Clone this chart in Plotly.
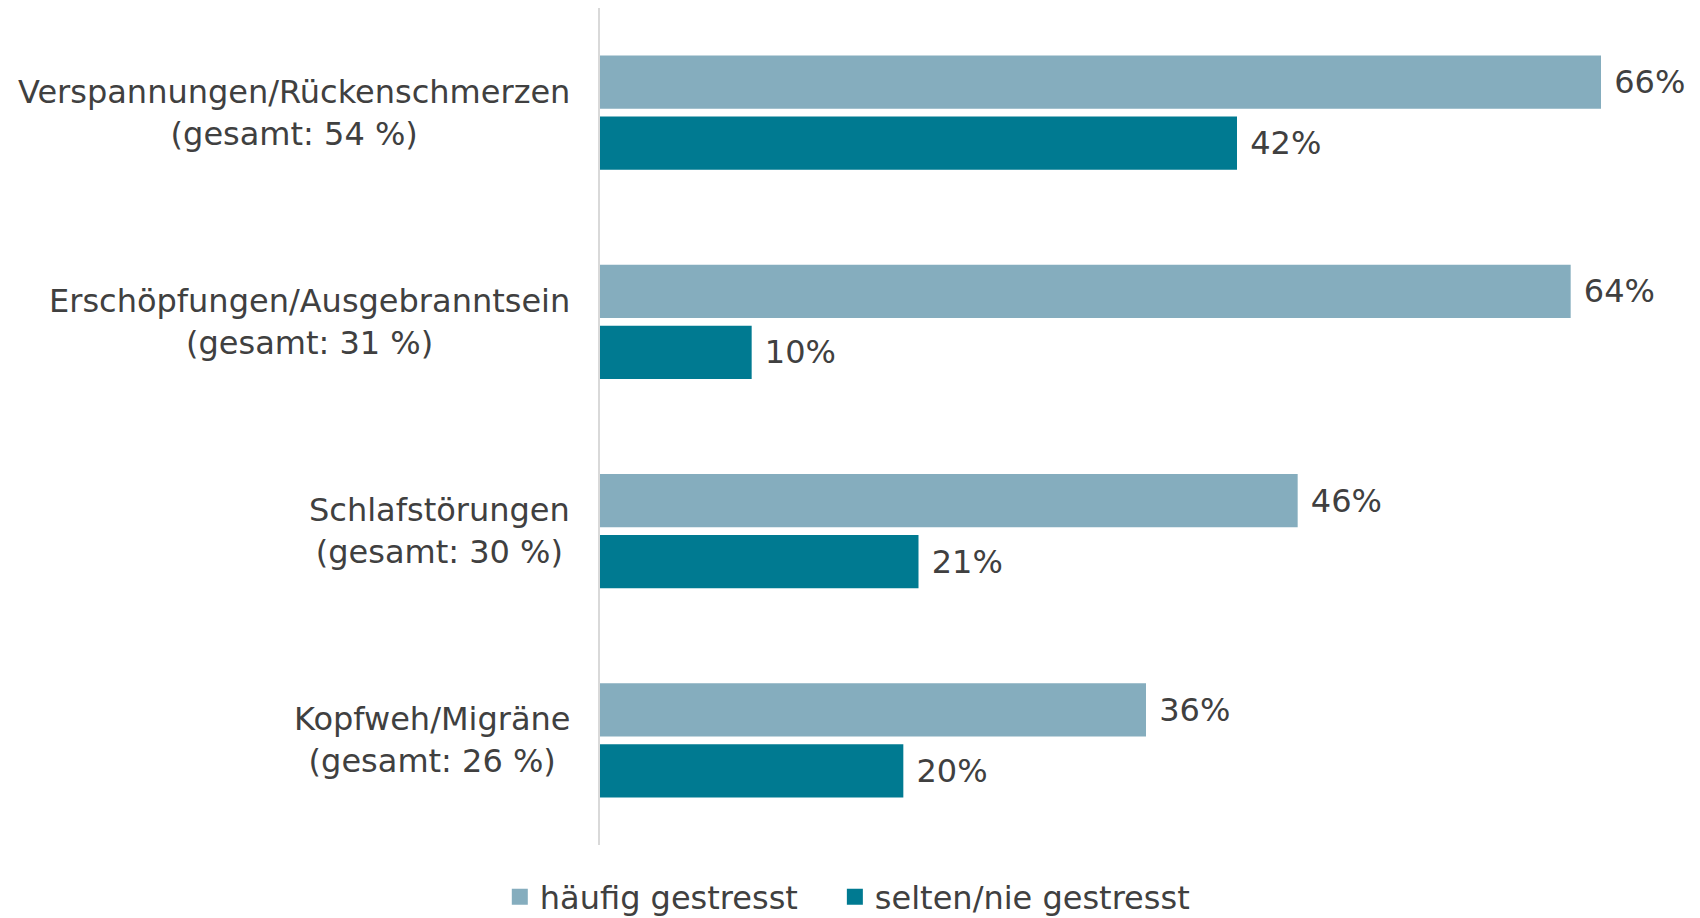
import plotly.graph_objects as go

categories = ["Verspannungen/Rückenschmerzen", "Erschöpfungen/Ausgebranntsein",
              "Schlafstörungen", "Kopfweh/Migräne"]
totals = [54, 31, 30, 26]
haeufig = [66, 64, 46, 36]
selten = [42, 10, 21, 20]
series_names = ["häufig gestresst", "selten/nie gestresst"]

FONT = "DejaVu Sans, Verdana, sans-serif"
TEXT_COLOR = "#404040"
C_LIGHT = "#85ADBE"
C_DARK = "#007A91"

fig = go.Figure()
legend_labels = [series_names[0] + "\u2003", series_names[1]]
for name, leg, vals, col in [(series_names[0], legend_labels[0], haeufig, C_LIGHT),
                             (series_names[1], legend_labels[1], selten, C_DARK)]:
    fig.add_trace(go.Bar(
        y=categories, x=vals, name=name, orientation="h",
        marker=dict(color=col, line=dict(width=0)),
        text=[f" {v}%" for v in vals], textposition="outside",
        textfont=dict(family=FONT, size=32, color=TEXT_COLOR),
        cliponaxis=False, constraintext="none", showlegend=False,
    ))
    # legend entry with a larger square symbol
    fig.add_trace(go.Scatter(
        x=[None], y=[None], mode="markers", name=leg,
        marker=dict(symbol="square", size=16, color=col),
        showlegend=True, hoverinfo="skip",
    ))

for cat, tot in zip(categories, totals):
    fig.add_annotation(
        x=0, xref="paper", y=cat, yref="y",
        text=f"{cat}<br>(gesamt: {tot} %)",
        showarrow=False, xanchor="right", yanchor="middle", align="center",
        xshift=-28, font=dict(family=FONT, size=32, color=TEXT_COLOR),
    )

fig.update_layout(
    width=1700, height=918,
    margin=dict(l=600, r=8, t=8, b=73),
    paper_bgcolor="white", plot_bgcolor="white",
    barmode="group", bargap=0.417, bargroupgap=0.131,
    showlegend=True,
    legend=dict(orientation="h", xref="container", yref="container",
                x=0.294, xanchor="left", y=0.023, yanchor="middle",
                traceorder="normal",
                font=dict(family=FONT, size=32, color=TEXT_COLOR)),
    font=dict(family=FONT, color=TEXT_COLOR),
    xaxis=dict(range=[0, 72], visible=False, showgrid=False, zeroline=False),
    yaxis=dict(autorange="reversed", showticklabels=False, ticks="",
               showline=True, linecolor="#D9D9D9", linewidth=2,
               showgrid=False, zeroline=False),
)

fig.write_html("out.html", post_script="document.body.style.margin='0';",
               config={"displayModeBar": False})
